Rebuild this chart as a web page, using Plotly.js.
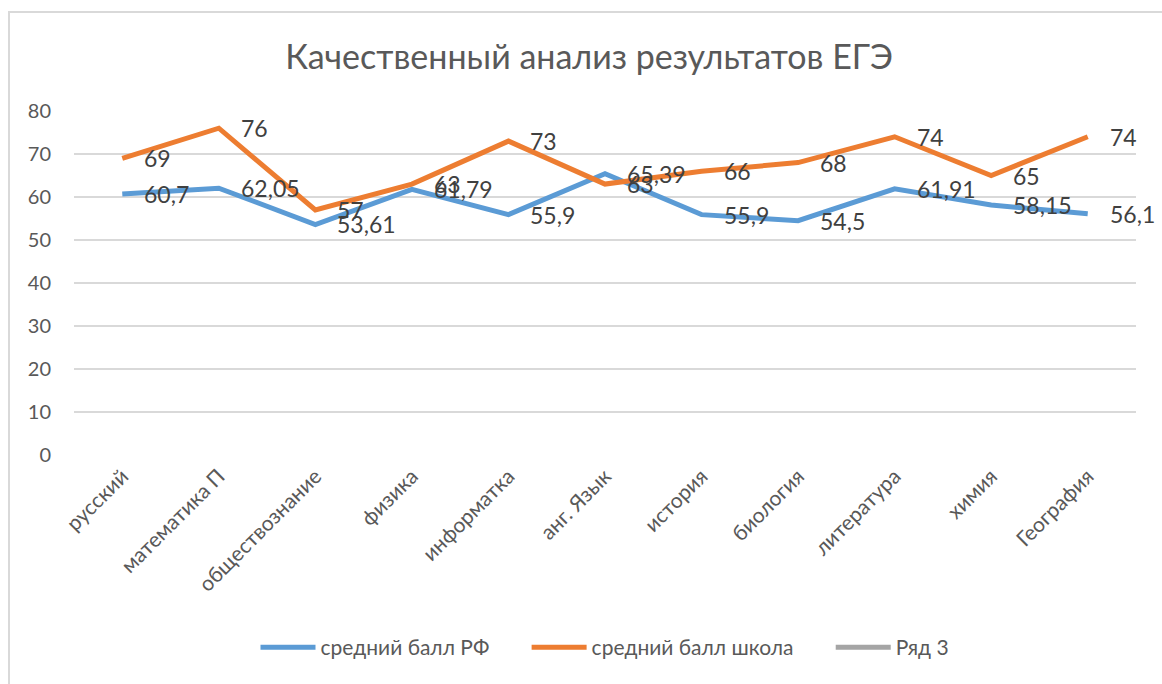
<!DOCTYPE html>
<html><head><meta charset="utf-8">
<script src="https://cdn.plot.ly/plotly-3.0.1.min.js"></script>
<style>
html,body{margin:0;padding:0;background:#fff;}
#frame{position:absolute;left:8px;top:11px;width:1160px;height:680px;border:2px solid #d9d9d9;box-sizing:border-box;}
#chart{position:absolute;left:0;top:0;width:1162px;height:684px;}
</style>
</head><body>
<div id="frame"></div>
<div id="chart"></div>
<script>
const categories = ["русский","математика П","обществознание","физика","информатка","анг. Язык","история","биология","литература","химия","География"];
const rfAvg = [60.7, 62.05, 53.61, 61.79, 55.9, 65.39, 55.9, 54.5, 61.91, 58.15, 56.1];
const schoolAvg = [69, 76, 57, 63, 73, 63, 66, 68, 74, 65, 74];
const series3 = [null,null,null,null,null,null,null,null,null,null,null];
const seriesNames = ["средний балл РФ","средний балл школа","Ряд 3"];
const colors = ["#5b9bd5","#ed7d31","#a5a5a5"];

const fmt = v => String(v).replace('.', ',');
const FONT = 'Lato, "Open Sans", sans-serif';
const PAD = '\u00a0\u00a0\u00a0\u00a0\u00a0\u00a0';

const traces = [rfAvg, schoolAvg, series3].map((ys, i) => ({
  type: 'scatter', mode: 'lines', x: categories, y: ys,
  name: seriesNames[i] + (i < 2 ? PAD : ''),
  line: {color: colors[i], width: 5, shape: 'linear'}, hoverinfo: 'skip'
}));

const annotations = [];
[rfAvg, schoolAvg].forEach(ys => {
  ys.forEach((v, j) => {
    annotations.push({x: categories[j], y: v, xref: 'x', yref: 'y', text: fmt(v),
      showarrow: false, xanchor: 'left', yanchor: 'middle', xshift: 20,
      font: {family: FONT, size: 23, color: '#404040'}});
  });
});

const layout = {
  width: 1162, height: 684,
  paper_bgcolor: 'rgba(0,0,0,0)', plot_bgcolor: 'rgba(0,0,0,0)',
  margin: {l: 74, r: 26, t: 111, b: 229},
  title: {text: 'Качественный анализ результатов ЕГЭ', x: 0.507, xanchor: 'center', y: 0.917, yanchor: 'middle',
    font: {family: FONT, size: 34, color: '#595959'}},
  xaxis: {type: 'category', range: [-0.5, 10.5], tickangle: -45, showgrid: false, zeroline: false, showline: false,
    ticks: '', ticklabelstandoff: 4, tickfont: {family: FONT, size: 21, color: '#595959'}},
  yaxis: {range: [0, 80], dtick: 10, showgrid: true, gridcolor: '#d9d9d9', gridwidth: 2,
    zeroline: false, showline: false, ticks: '', ticklabelstandoff: 22,
    tickfont: {family: FONT, size: 20, color: '#595959'}},
  showlegend: true,
  legend: {orientation: 'h', x: 0.5, xanchor: 'center', y: -0.56, yanchor: 'middle',
    font: {family: FONT, size: 21, color: '#595959'}, itemwidth: 55},
  annotations: annotations
};

Plotly.newPlot('chart', traces, layout, {displayModeBar: false, staticPlot: true});
</script>
</body></html>
